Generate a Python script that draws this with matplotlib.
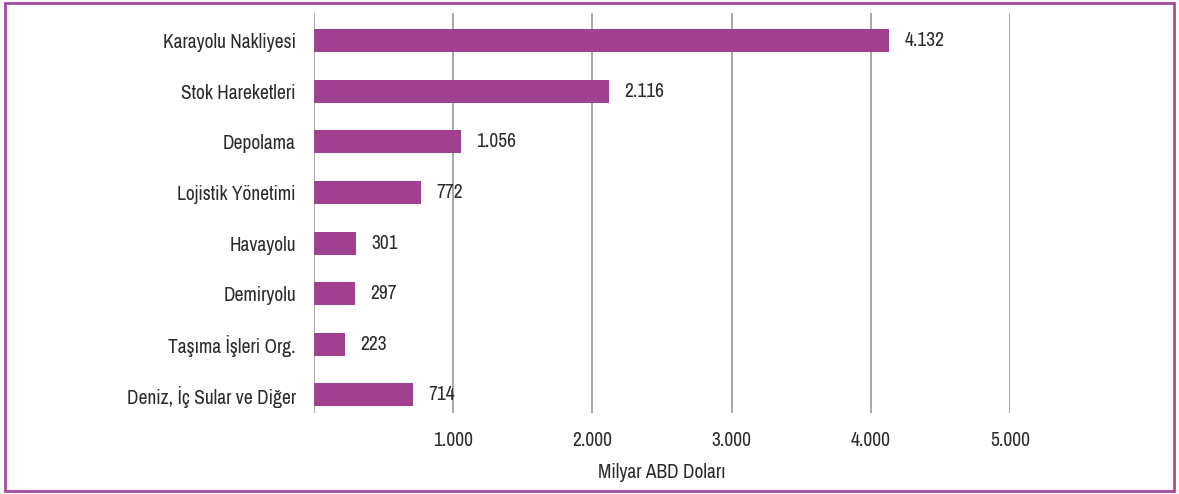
import matplotlib
matplotlib.use('Agg')
import matplotlib.pyplot as plt
from matplotlib.patches import Rectangle
from matplotlib.ticker import FuncFormatter
from matplotlib import font_manager

# data (billion USD)
categories = ['Karayolu Nakliyesi', 'Stok Hareketleri', 'Depolama', 'Lojistik Yönetimi',
              'Havayolu', 'Demiryolu', 'Taşıma İşleri Org.', 'Deniz, İç Sular ve Diğer']
values = [4132, 2116, 1056, 772, 301, 297, 223, 714]
xticks = [1000, 2000, 3000, 4000, 5000]
xlabel = 'Milyar ABD Doları'

BAR = '#A0408F'
FRAME = '#A64CA0'
TXT = '#2b2b2b'

# pick a narrow font if one is around
names = sorted({f.name for f in font_manager.fontManager.ttflist})
narrow = [n for n in names if 'Narrow' in n or 'Condensed' in n]
fam = narrow[0] if narrow else 'DejaVu Sans'
plt.rcParams['font.family'] = [fam, 'DejaVu Sans']
plt.rcParams['font.stretch'] = 'condensed'


def tr_fmt(v):
    return f'{int(round(v)):,}'.replace(',', '.')


fig = plt.figure(figsize=(11.79, 4.94), dpi=100)
ax = fig.add_axes([314 / 1179, 1 - 413 / 494, 696 / 1179, 400 / 494])

ypos = list(range(len(categories)))
ax.barh(ypos, values, height=0.455, color=BAR, zorder=3)
ax.set_ylim(7.36, -0.55)
ax.set_xlim(0, 5000)

ax.set_yticks(ypos)
ax.set_yticklabels(categories, fontsize=14, color=TXT)
ax.set_xticks(xticks)
ax.xaxis.set_major_formatter(FuncFormatter(lambda v, p: tr_fmt(v)))
ax.tick_params(axis='x', labelsize=14, colors=TXT, length=0, pad=13)
ax.tick_params(axis='y', length=0, pad=13)
ax.set_xlabel(xlabel, fontsize=14, color=TXT, labelpad=9)

for x in [0] + xticks:
    ax.axvline(x, color='#999999', lw=1.2, zorder=1)

for sp in ax.spines.values():
    sp.set_visible(False)

for y, v in zip(ypos, values):
    ax.annotate(tr_fmt(v), (v, y), xytext=(11, 0), textcoords='offset points',
                ha='left', va='center', fontsize=14, color=TXT, zorder=4)

fig.patches.append(Rectangle((5 / 1179, 3 / 494), 1169 / 1179, 488 / 494,
                             transform=fig.transFigure, fill=False,
                             edgecolor=FRAME, lw=2))

fig.savefig('out.png', dpi=100)
